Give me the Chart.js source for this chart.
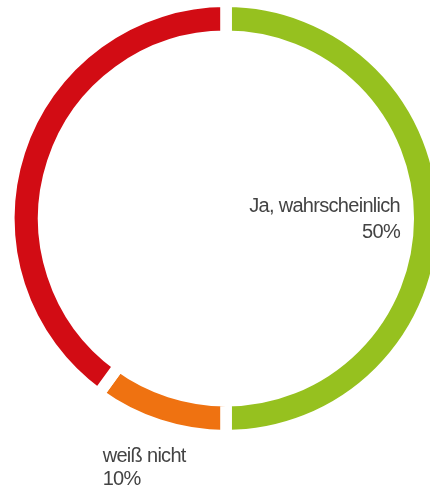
<!DOCTYPE html>
<html>
<head>
<meta charset="utf-8">
<script src="https://cdn.jsdelivr.net/npm/chart.js@4/dist/chart.umd.min.js"></script>
<style>
  html, body { margin: 0; padding: 0; background: #fff; overflow: hidden; width: 430px; height: 488px; }
  #wrap { position: absolute; left: 0; top: 0; width: 452px; height: 488px; }
</style>
</head>
<body>
<div id="wrap"><canvas id="c" width="452" height="488"></canvas></div>
<script>
// ---- data ----
const categories = ["Ja, wahrscheinlich", "weiß nicht", "Nein"];
const values = [50, 10, 40];
const valueLabels = ["50%", "10%", "40%"];
const colors = ["#96c11f", "#ef7211", "#d20c14"];
const showLabel = [true, true, false];

// label placement (style/layout, not data)
const labelLayout = [
  { mode: "inside", pad: 14, align: "right", dy: [-7, 19.2] },
  { mode: "outside", dx: -58, align: "left", dy: [42.1, 65.5] },
  null
];

const labelPlugin = {
  id: "sliceLabels",
  afterDatasetsDraw(chart) {
    const ctx = chart.ctx;
    const meta = chart.getDatasetMeta(0);
    ctx.save();
    ctx.font = "20px 'Liberation Sans', Arial, sans-serif";
    try { ctx.letterSpacing = "-0.7px"; } catch (e) {}
    ctx.fillStyle = "#434343";
    ctx.textBaseline = "alphabetic";
    meta.data.forEach((arc, i) => {
      if (!showLabel[i] || !labelLayout[i]) return;
      const L = labelLayout[i];
      const mid = (arc.startAngle + arc.endAngle) / 2;
      const bw = 11.6 / 2;
      let x, y;
      if (L.mode === "inside") {
        const r = arc.innerRadius + bw - L.pad;
        x = arc.x + Math.cos(mid) * r;
        y = arc.y + Math.sin(mid) * r;
      } else {
        const r = arc.outerRadius - bw;
        x = arc.x + Math.cos(mid) * r + L.dx;
        y = arc.y + Math.sin(mid) * r;
      }
      ctx.textAlign = L.align;
      ctx.fillText(categories[i], x, y + L.dy[0]);
      ctx.fillText(valueLabels[i], x, y + L.dy[1]);
    });
    ctx.restore();
  }
};

new Chart(document.getElementById("c"), {
  type: "doughnut",
  data: {
    labels: categories,
    datasets: [{
      data: values,
      backgroundColor: colors,
      borderColor: "#ffffff",
      borderWidth: 11.6,
      borderJoinStyle: "miter",
      hoverOffset: 0
    }]
  },
  options: {
    responsive: false,
    animation: false,
    radius: 217.2,
    cutout: "83.9%",
    layout: { padding: { left: 0, right: 0, top: 0, bottom: 51 } },
    plugins: {
      legend: { display: false },
      tooltip: { enabled: false }
    },
    events: []
  },
  plugins: [labelPlugin]
});
</script>
</body>
</html>
